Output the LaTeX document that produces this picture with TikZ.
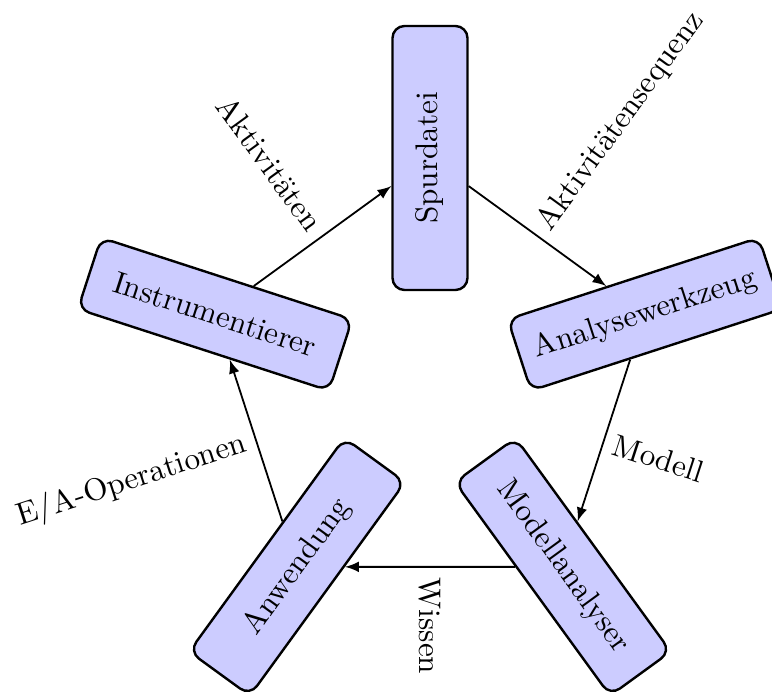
\documentclass[tikz,border=0pt]{standalone}
\usetikzlibrary{arrows}
\begin{document}
\begin{tikzpicture}[
  x=1pt, y=1pt,
  every node/.style={font=\fontsize{10.4}{12.5}\selectfont},
  stage/.style={draw, thick, fill=blue!20, rounded corners=4pt,
                minimum width=88pt, minimum height=25pt, inner sep=3.33pt},
  flow/.style={-latex, semithick},
  lbl/.style={inner sep=3.33pt}
]
% page frame
\useasboundingbox (-143.33,-103) rectangle (114,128);
\def\R{75.33}
% five stages on a pentagon, each turned along its radius
\node[stage, rotate=90]  (spur) at (90:\R)   {Spurdatei};
\node[stage, rotate=18]  (ana)  at (18:\R)   {Analysewerkzeug};
\node[stage, rotate=-54] (mod)  at (-54:\R)  {Modellanalyser};
\node[stage, rotate=54]  (anw)  at (-126:\R) {Anwendung};
\node[stage, rotate=-18] (ins)  at (162:\R)  {Instrumentierer};
% the cycle, labels pointing outward
\draw[flow] (ins)  -- (spur) node[lbl, midway, rotate=-54, anchor=east] {Aktivitäten};
\draw[flow] (spur) -- (ana)  node[lbl, midway, rotate=54,  anchor=west] {Aktivitätensequenz};
\draw[flow] (ana)  -- (mod)  node[lbl, midway, rotate=-18, anchor=west] {Modell};
\draw[flow] (mod)  -- (anw)  node[lbl, midway, rotate=-90, anchor=west] {Wissen};
\draw[flow] (anw)  -- (ins)  node[lbl, midway, rotate=18,  anchor=east] {E/A-Operationen};
\end{tikzpicture}
\end{document}
